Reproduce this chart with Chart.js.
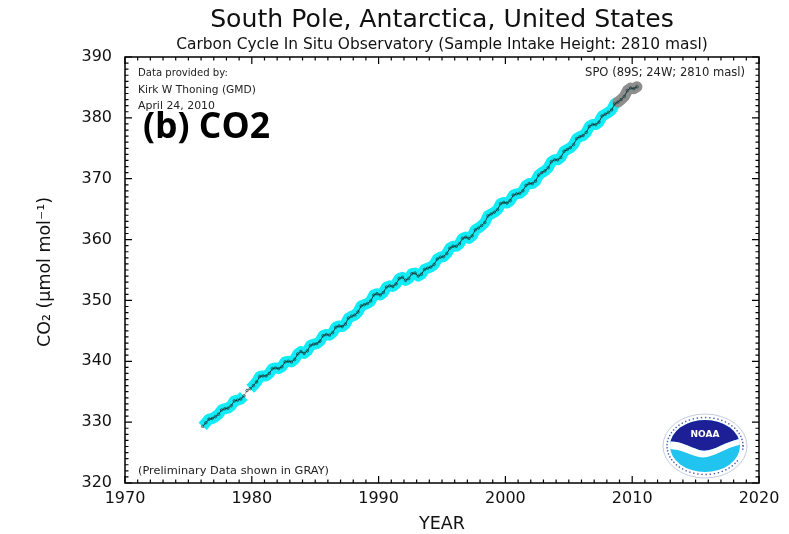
<!DOCTYPE html>
<html>
<head>
<meta charset="utf-8">
<script src="https://cdn.jsdelivr.net/npm/chart.js@4/dist/chart.umd.min.js"></script>
<style>
  html, body { margin: 0; padding: 0; background: #fff; }
  #wrap { width: 789px; height: 534px; position: relative; }
</style>
</head>
<body>
<div id="wrap"><canvas id="c" width="789" height="534"></canvas></div>
<script>
// Quarterly CO2 means at the South Pole (ppm), starting in the first quarter of 1976
const startYear = 1976;
const co2 = [
  329.3, 329.9, 330.5, 330.6,   // 1976
  330.9, 331.3, 332.0, 332.2,   // 1977
  332.3, 332.7, 333.5, 333.6,   // 1978
  333.8, 334.3, 335.2, 335.5,   // 1979
  336.0, 336.6, 337.5, 337.6,   // 1980
  337.6, 338.0, 338.8, 338.9,   // 1981
  338.8, 339.1, 339.9, 340.0,   // 1982
  339.9, 340.3, 341.2, 341.6,   // 1983
  341.3, 341.7, 342.6, 342.8,   // 1984
  342.9, 343.3, 344.2, 344.4,   // 1985
  344.3, 344.7, 345.6, 345.8,   // 1986
  345.7, 346.1, 347.1, 347.4,   // 1987
  347.6, 348.1, 349.1, 349.3,   // 1988
  349.5, 349.9, 350.9, 351.1,   // 1989
  350.9, 351.3, 352.2, 352.4,   // 1990
  352.3, 352.7, 353.6, 353.8,   // 1991
  353.3, 353.6, 354.4, 354.5,   // 1992
  354.0, 354.3, 355.1, 355.3,   // 1993
  355.5, 355.9, 356.8, 357.1,   // 1994
  357.2, 357.7, 358.6, 358.9,   // 1995
  358.9, 359.3, 360.2, 360.4,   // 1996
  360.2, 360.6, 361.6, 361.9,   // 1997
  362.3, 362.8, 363.9, 364.2,   // 1998
  364.5, 364.9, 365.9, 366.1,   // 1999
  366.0, 366.4, 367.3, 367.5,   // 2000
  367.6, 368.0, 368.9, 369.2,   // 2001
  369.2, 369.6, 370.6, 371.0,   // 2002
  371.3, 371.8, 372.8, 373.1,   // 2003
  373.1, 373.5, 374.5, 374.8,   // 2004
  375.1, 375.6, 376.6, 376.9,   // 2005
  377.1, 377.6, 378.6, 378.9,   // 2006
  378.9, 379.3, 380.3, 380.6,   // 2007
  380.9, 381.3, 382.3, 382.6,   // 2008
  383.0, 383.5, 384.5, 384.9,   // 2009 (preliminary)
  384.8, 385.1                  // 2010 (preliminary)
];
// Short stretch in 1979 without final-quality data, and start of preliminary data
const gapFrom = 1979.5, gapTo = 1979.75;
const prelimStart = 2008.875;

const xTickValues = [1970, 1980, 1990, 2000, 2010, 2020];
const yTickValues = [320, 330, 340, 350, 360, 370, 380, 390];

const titleText = 'South Pole, Antarctica, United States';
const subtitleText = 'Carbon Cycle In Situ Observatory (Sample Intake Height: 2810 masl)';
const creditLines = ['Data provided by:', 'Kirk W Thoning (GMD)', 'April 24, 2010'];
const siteText = 'SPO (89S; 24W; 2810 masl)';
const prelimNote = '(Preliminary Data shown in GRAY)';
const panelLabel = '(b) CO2';
const xTitle = 'YEAR';
const yTitle = 'CO\u2082 (\u03BCmol mol\u207B\u00B9)';

const points = co2.map((v, i) => ({ x: startYear + (i + 0.5) / 4, y: v }));
const bandPoints = points.map(p => ({
  x: p.x,
  y: (p.x > prelimStart || (p.x >= gapFrom && p.x <= gapTo)) ? null : p.y
}));
const prelimPoints = points.filter(p => p.x >= prelimStart);

const FONT = '"DejaVu Sans", sans-serif';

function drawFitted(ctx, text, x, y, width, weight, family, align) {
  ctx.font = weight + ' 20px ' + family;
  const w = ctx.measureText(text).width;
  const size = 20 * width / w;
  ctx.font = weight + ' ' + size.toFixed(2) + 'px ' + family;
  ctx.textAlign = align || 'left';
  ctx.textBaseline = 'middle';
  ctx.fillText(text, x, y);
}

function drawLogo(ctx, cx, cy) {
  ctx.save();
  // outer white ring with grey rim
  ctx.beginPath();
  ctx.ellipse(cx, cy, 42, 32, 0, 0, Math.PI * 2);
  ctx.fillStyle = '#ffffff';
  ctx.fill();
  ctx.strokeStyle = '#c4cce0';
  ctx.lineWidth = 1;
  ctx.stroke();
  // tiny ring lettering
  ctx.fillStyle = '#4a5aa8';
  for (let a = 0; a < Math.PI * 2; a += 0.11) {
    if (a > 0.2 && a < 0.5) continue;
    const px = cx + 38 * Math.cos(a), py = cy + 28.5 * Math.sin(a);
    ctx.fillRect(px - 0.7, py - 0.7, 1.4, 1.4);
  }
  // inner disc
  ctx.beginPath();
  ctx.ellipse(cx, cy, 35, 26, 0, 0, Math.PI * 2);
  ctx.clip();
  ctx.fillStyle = '#21c4ee';
  ctx.fillRect(cx - 40, cy - 30, 80, 60);
  ctx.beginPath();
  ctx.moveTo(cx - 40, cy - 30);
  ctx.lineTo(cx + 40, cy - 30);
  ctx.lineTo(cx + 40, cy - 8);
  ctx.bezierCurveTo(cx + 20, cy - 6, cx + 8, cy + 8, cx - 6, cy + 4);
  ctx.bezierCurveTo(cx - 18, cy, cx - 26, cy - 6, cx - 40, cy - 4);
  ctx.closePath();
  ctx.fillStyle = '#1d1f96';
  ctx.fill();
  // white bird band
  ctx.beginPath();
  ctx.moveTo(cx - 40, cy - 4);
  ctx.bezierCurveTo(cx - 26, cy - 6, cx - 18, cy, cx - 6, cy + 4);
  ctx.bezierCurveTo(cx + 8, cy + 8, cx + 20, cy - 6, cx + 40, cy - 8);
  ctx.lineTo(cx + 40, cy - 2);
  ctx.bezierCurveTo(cx + 20, cy, cx + 8, cy + 14, cx - 6, cy + 11);
  ctx.bezierCurveTo(cx - 18, cy + 8, cx - 26, cy + 2, cx - 40, cy + 3);
  ctx.closePath();
  ctx.fillStyle = '#ffffff';
  ctx.fill();
  ctx.restore();
  ctx.save();
  ctx.fillStyle = '#ffffff';
  ctx.font = 'bold 9px ' + FONT;
  ctx.textAlign = 'center';
  ctx.textBaseline = 'middle';
  ctx.fillText('NOAA', cx, cy - 11);
  ctx.restore();
}

const framePlugin = {
  id: 'frame',
  afterDraw(chart) {
    const ctx = chart.ctx;
    const a = chart.chartArea;
    const xs = chart.scales.x, ys = chart.scales.y;
    ctx.save();
    // axes box
    ctx.strokeStyle = '#000';
    ctx.lineWidth = 1.5;
    ctx.strokeRect(a.left, a.top, a.right - a.left, a.bottom - a.top);
    // inward tick marks on all four sides
    ctx.lineWidth = 1.2;
    ctx.beginPath();
    for (let yr = 1970; yr <= 2020; yr++) {
      const px = xs.getPixelForValue(yr);
      const len = yr % 10 === 0 ? 7 : 3.5;
      ctx.moveTo(px, a.bottom); ctx.lineTo(px, a.bottom - len);
      ctx.moveTo(px, a.top); ctx.lineTo(px, a.top + len);
    }
    for (let v = 320; v <= 390; v++) {
      const py = ys.getPixelForValue(v);
      const len = v % 10 === 0 ? 7 : 3.5;
      ctx.moveTo(a.left, py); ctx.lineTo(a.left + len, py);
      ctx.moveTo(a.right, py); ctx.lineTo(a.right - len, py);
    }
    ctx.stroke();

    // titles
    ctx.fillStyle = '#111';
    drawFitted(ctx, titleText, (a.left + a.right) / 2, 20, 464, 'normal', FONT, 'center');
    drawFitted(ctx, subtitleText, (a.left + a.right) / 2, 45, 532, 'normal', FONT, 'center');

    // notes inside the plot
    ctx.fillStyle = '#222';
    drawFitted(ctx, creditLines[0], a.left + 13, 73, 90, 'normal', FONT);
    drawFitted(ctx, creditLines[1], a.left + 13, 90, 118, 'normal', FONT);
    drawFitted(ctx, creditLines[2], a.left + 13, 106, 77, 'normal', FONT);
    drawFitted(ctx, siteText, 745, 73, 160, 'normal', FONT, 'right');
    drawFitted(ctx, prelimNote, a.left + 13, 471, 191, 'normal', FONT);

    // panel label
    ctx.fillStyle = '#000';
    drawFitted(ctx, panelLabel, 143, 128, 127, 'bold', '"Open Sans", sans-serif');

    // axis titles
    ctx.fillStyle = '#111';
    drawFitted(ctx, xTitle, (a.left + a.right) / 2, 524, 46, 'normal', FONT, 'center');
    ctx.save();
    ctx.translate(45, 272);
    ctx.rotate(-Math.PI / 2);
    drawFitted(ctx, yTitle, 0, 0, 150, 'normal', FONT, 'center');
    ctx.restore();

    drawLogo(ctx, 705, 446);
    ctx.restore();
  }
};

new Chart(document.getElementById('c'), {
  type: 'line',
  data: {
    datasets: [
      {
        label: 'CO2',
        data: points,
        order: 0,
        borderColor: '#15393b',
        borderWidth: 1,
        tension: 0,
        pointRadius: 1.3,
        pointBorderWidth: 0.7,
        pointBorderColor: '#15393b',
        pointBackgroundColor: 'rgba(0,0,0,0)',
        segment: {
          borderColor: s => (s.p0.parsed.x >= gapFrom - 0.2 && s.p1.parsed.x <= gapTo + 0.2) ? '#9a9a9a' : undefined
        }
      },
      {
        label: 'final',
        data: bandPoints,
        order: 2,
        borderColor: '#12ecf6',
        borderWidth: 11,
        borderCapStyle: 'butt',
        borderJoinStyle: 'round',
        spanGaps: false,
        tension: 0,
        pointRadius: 0
      },
      {
        label: 'preliminary',
        data: prelimPoints,
        order: 1,
        borderColor: '#8e8e8e',
        borderWidth: 11,
        borderCapStyle: 'round',
        borderJoinStyle: 'round',
        tension: 0,
        pointRadius: 0
      }
    ]
  },
  options: {
    responsive: false,
    animation: false,
    devicePixelRatio: 1,
    layout: { padding: { left: 0, right: 30, top: 57, bottom: 0 } },
    plugins: { legend: { display: false }, tooltip: { enabled: false }, title: { display: false } },
    scales: {
      x: {
        type: 'linear',
        min: 1970,
        max: 2020,
        afterFit(s) { s.height = 51; },
        afterBuildTicks(s) { s.ticks = xTickValues.map(v => ({ value: v })); },
        ticks: {
          color: '#111',
          font: { family: FONT, size: 16 },
          padding: 6,
          maxRotation: 0,
          autoSkip: false,
          callback: v => String(v)
        },
        grid: { display: false, drawTicks: false },
        border: { display: false }
      },
      y: {
        type: 'linear',
        min: 320,
        max: 390,
        afterFit(s) { s.width = 125; },
        afterBuildTicks(s) { s.ticks = yTickValues.map(v => ({ value: v })); },
        ticks: {
          color: '#111',
          font: { family: FONT, size: 16 },
          padding: 13,
          autoSkip: false,
          callback: v => String(v)
        },
        grid: { display: false, drawTicks: false },
        border: { display: false }
      }
    }
  },
  plugins: [framePlugin]
});
</script>
</body>
</html>
